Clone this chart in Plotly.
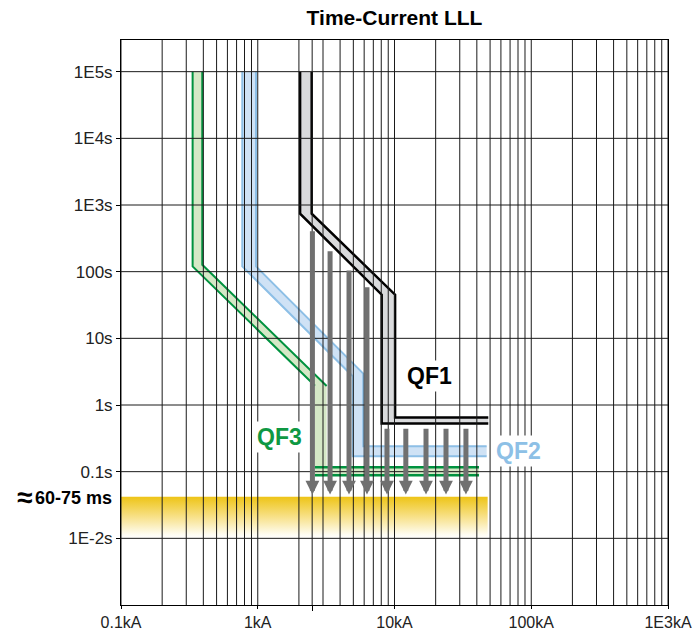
import numpy as np
import plotly.graph_objects as go

# ---------------- data ----------------
# QF1 (black) tripping band: min / max curves (current kA, time s)
qf1_min_I = [2.04, 2.04, 8.06, 8.06, 48.5]
qf1_min_t = [1e5, 739, 45.2, 0.528, 0.528]
qf1_max_I = [2.48, 2.48, 10.1, 10.1, 48.5]
qf1_max_t = [1e5, 739, 45.2, 0.650, 0.650]

# QF2 (light blue)
qf2_min_I = [0.771, 0.771, 4.95, 4.95, 47.2]
qf2_min_t = [1e5, 120, 2.70, 0.171, 0.171]
qf2_max_I = [0.971, 0.971, 5.91, 5.91, 47.2]
qf2_max_t = [1e5, 120, 2.96, 0.241, 0.241]

# QF3 (green)
qf3_min_I = [0.334, 0.334, 2.62, 2.62, 41.5]
qf3_min_t = [1e5, 120, 1.95, 0.088, 0.088]
qf3_max_I = [0.393, 0.393, 3.19, 3.19, 41.5]
qf3_max_t = [1e5, 127, 1.93, 0.116, 0.116]

# fault-current arrows (kA) with start time (s) and common end time (s)
arrow_I = [2.51, 3.38, 4.65, 6.29, 8.81, 12.1, 17.0, 23.8, 33.3]
arrow_from_t = [425, 213, 110, 61.7, 0.465, 0.465, 0.465, 0.465, 0.465]
arrow_to_t = 0.0456

# ~60-75 ms band
band_I = [0.1, 48.0]
band_t = [0.0422, 0.01]

# reference current line (kA)
ref_I = [2.5]

# axes ticks
x_tickvals = [0.1, 1, 10, 100, 1000]
x_ticktext = ["0.1kA", "1kA", "10kA", "100kA", "1E3kA"]
y_tickvals = [1e5, 1e4, 1e3, 100, 10, 1, 0.1, 0.01]
y_ticktext = ["1E5s", "1E4s", "1E3s", "100s", "10s", "1s", "0.1s", "1E-2s"]

# labels
label_text = ["QF1", "QF2", "QF3"]
label_I = [17.9, 81.3, 1.45]
label_t = [2.77, 0.201, 0.326]

X_RANGE = [-1, 3]
Y_RANGE = [-3, 5.475]

# ---------------- colours ----------------
C_QF1_LINE, C_QF1_FILL = "#000000", "#d9dadc"
C_QF2_LINE, C_QF2_FILL = "#8dbfe6", "#cfe2f5"
C_QF3_LINE, C_QF3_FILL = "#00923f", "#d5e8c6"
C_ARROW = "#707070"
C_GRID = "#1a1a1a"
FONT = "Liberation Sans, Arial, Helvetica, sans-serif"

fig = go.Figure()

# yellow band with vertical gradient
fig.add_trace(go.Scatter(
    x=[band_I[0], band_I[1], band_I[1], band_I[0], band_I[0]],
    y=[band_t[0], band_t[0], band_t[1], band_t[1], band_t[0]],
    mode="lines", line=dict(width=0), fill="toself",
    fillgradient=dict(type="vertical",
                      colorscale=[[0, "rgba(255,255,255,1)"], [0.1, "rgb(254,252,240)"],
                                  [0.5, "rgb(248,226,140)"], [1, "rgb(238,196,22)"]]),
    hoverinfo="skip", showlegend=False))


def band(min_I, min_t, max_I, max_t, fillc):
    xs = list(min_I) + list(max_I)[::-1] + [min_I[0]]
    ys = list(min_t) + list(max_t)[::-1] + [min_t[0]]
    fig.add_trace(go.Scatter(x=xs, y=ys, mode="lines", line=dict(width=0),
                             fill="toself", fillcolor=fillc,
                             hoverinfo="skip", showlegend=False))


def line(xs, ys, color, width):
    fig.add_trace(go.Scatter(x=xs, y=ys, mode="lines",
                             line=dict(color=color, width=width),
                             hoverinfo="skip", showlegend=False))


# fills
band(qf3_min_I, qf3_min_t, qf3_max_I, qf3_max_t, C_QF3_FILL)
band(qf2_min_I, qf2_min_t, qf2_max_I, qf2_max_t, C_QF2_FILL)
band(qf1_min_I, qf1_min_t, qf1_max_I, qf1_max_t, C_QF1_FILL)

# outlines
line(qf3_min_I[:3], qf3_min_t[:3], C_QF3_LINE, 2)
line(qf3_max_I[:3], qf3_max_t[:3], C_QF3_LINE, 2)
line(qf2_min_I, qf2_min_t, C_QF2_LINE, 2)
line(qf2_max_I, qf2_max_t, C_QF2_LINE, 2)
line(qf1_min_I, qf1_min_t, C_QF1_LINE, 2.5)
line(qf1_max_I, qf1_max_t, C_QF1_LINE, 2.5)

# QF3 instantaneous lines
line([qf3_min_I[3], qf3_min_I[4]], [qf3_min_t[3], qf3_min_t[4]], C_QF3_LINE, 2.5)
line([qf3_min_I[3], qf3_max_I[4]], [qf3_max_t[3], qf3_max_t[4]], C_QF3_LINE, 2.5)

# grid drawn on top of the bands
ymin, ymax = 10 ** Y_RANGE[0], 10 ** Y_RANGE[1]
xmin, xmax = 10 ** X_RANGE[0], 10 ** X_RANGE[1]
vx = sorted(set([d * m for d in [0.1, 1, 10, 100] for m in range(1, 10)] + [1000] + ref_I))
gx, gy = [], []
for v in vx:
    gx += [v, v, None]
    gy += [ymin, ymax, None]
for v in y_tickvals:
    gx += [xmin, xmax, None]
    gy += [v, v, None]
fig.add_trace(go.Scatter(x=gx, y=gy, mode="lines", line=dict(color=C_GRID, width=1),
                         hoverinfo="skip", showlegend=False))

# arrows (annotation arrows, data coordinates)
for I, t0 in zip(arrow_I, arrow_from_t):
    fig.add_annotation(x=np.log10(I), y=np.log10(arrow_to_t), xref="x", yref="y",
                       ax=np.log10(I), ay=np.log10(t0), axref="x", ayref="y",
                       text="", showarrow=True, arrowhead=2, arrowsize=0.55,
                       arrowwidth=5, arrowcolor=C_ARROW, standoff=0, startstandoff=0)

# labels
label_colors = ["#000000", "#8dc0e6", "#0e9843"]
for txt, I, t, c in zip(label_text, label_I, label_t, label_colors):
    fig.add_annotation(x=np.log10(I), y=np.log10(t), xref="x", yref="y",
                       text=f"<b>{txt}</b>", showarrow=False,
                       font=dict(family=FONT, size=23, color=c),
                       bgcolor="white", borderpad=2)

fig.add_annotation(x=0, xref="paper", xanchor="right", xshift=-7,
                   y=np.log10(band_t[0]), yref="y", yshift=-1,
                   text="<b>60-75 ms</b>", showarrow=False,
                   font=dict(family=FONT, size=18, color="#000000"))
fig.add_annotation(x=0, xref="paper", xanchor="right", xshift=-87,
                   y=np.log10(band_t[0]), yref="y", yshift=-1,
                   text="<b>≈</b>", showarrow=False,
                   font=dict(family=FONT, size=28, color="#000000"))

fig.update_layout(
    width=694, height=632,
    margin=dict(l=121, r=26, t=40, b=27, autoexpand=False),
    paper_bgcolor="white", plot_bgcolor="white",
    title=dict(text="<b>Time-Current LLL</b>", x=(121 + 668) / 2 / 694, xanchor="center",
               y=1 - 18 / 632, yanchor="middle", yref="container",
               font=dict(family=FONT, size=21, color="#000000")),
    font=dict(family=FONT, size=17, color="#222222"),
    xaxis=dict(type="log", range=X_RANGE, showgrid=False, zeroline=False, automargin=False,
               showline=True, mirror=True, linecolor="black", linewidth=1,
               tickvals=x_tickvals, ticktext=x_ticktext,
               ticks="outside", ticklen=3, tickcolor="black",
               minor=dict(tickmode="array", tickvals=ref_I, ticks="outside",
                          ticklen=5, tickcolor="black", showgrid=False),
               tickfont=dict(size=16, color="#222222")),
    yaxis=dict(type="log", range=Y_RANGE, showgrid=False, zeroline=False, automargin=False,
               showline=True, mirror=True, linecolor="black", linewidth=1,
               tickvals=y_tickvals, ticktext=y_ticktext,
               ticks="outside", ticklen=4, tickcolor="black",
               tickfont=dict(size=17, color="#222222")),
)

fig.write_html("out.html", config={"displayModeBar": False},
               post_script="document.body.style.margin='0';document.body.style.overflow='hidden';")
